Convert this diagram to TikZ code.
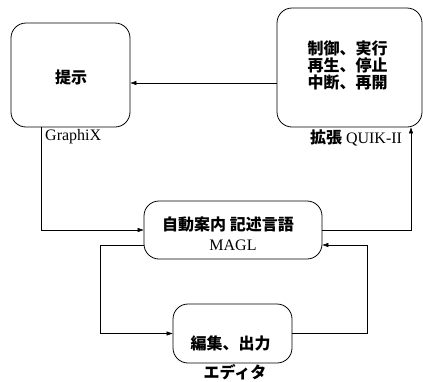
\documentclass[tikz,border=0pt]{standalone}
\usepackage{fontspec}
\setmainfont{Liberation Serif}
\newfontfamily\cjk{Noto Sans CJK JP}
\usetikzlibrary{arrows.meta}
\tikzset{
  box/.style={draw, line width=0.8pt, rounded corners=15pt, inner sep=0pt},
  arr/.style={draw, line width=0.6pt, -{Triangle[length=6pt,width=4pt]}},
  jp/.style={font=\cjk\bfseries\fontsize{16}{17}\selectfont, inner sep=0pt},
  lat/.style={font=\fontsize{16}{17}\selectfont, inner sep=0pt},
}
\begin{document}
\begin{tikzpicture}[x=1pt,y=-1pt]
\useasboundingbox (0,0) rectangle (423,381);
% boxes
\node[box, minimum width=119pt, minimum height=104pt] (present) at (70.5,75) {};
\node[box, minimum width=145pt, minimum height=119pt] (ctrl) at (349.5,67.5) {};
\node[box, minimum width=178pt, minimum height=58pt] (magl) at (233,230) {};
\node[box, minimum width=119pt, minimum height=59pt] (edit) at (232.5,333.5) {};
% texts
\node[jp] (tpresent) at (71,77) {提示};
\node[jp, align=left] (tctrl) at (347.5,65) {制御、実行\\再生、停止\\中断、再開};
\node[jp] (tmagl) at (228,224) {自動案内 記述言語};
\node[lat] (tmagl2) at (233,245) {MAGL};
\node[jp] (tedit) at (230.5,343) {編集、出力};
\node[jp] (teditor) at (235,372) {エディタ};
\node[lat, anchor=west] (tgraphix) at (45,137) {GraphiX};
\node[lat] (tquik) at (356,138) {{\cjk\bfseries 拡張} QUIK-II};
% connectors
\draw[arr] (ctrl.west |- 0,83) -- (present.east |- 0,83);
\draw[arr] (present.south -| 41,0) |- (magl.west);
\draw[arr] (magl.east) -| (ctrl.south -| 411,0);
\draw[arr] (magl.west |- 0,245) -- (100,245) |- (edit.west);
\draw[arr] (edit.east) -- (367,333.5) |- (magl.east |- 0,245);
\end{tikzpicture}
\end{document}
